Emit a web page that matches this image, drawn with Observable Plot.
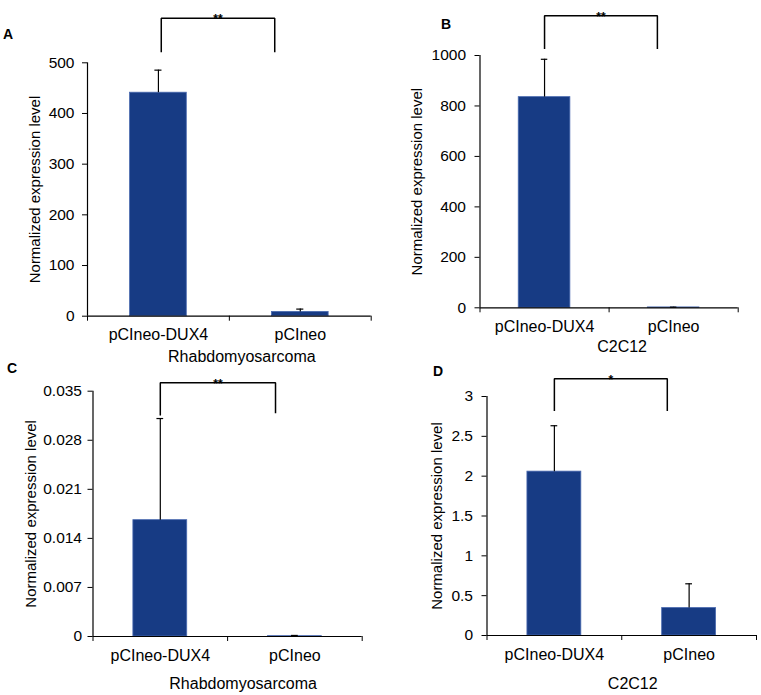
<!DOCTYPE html>
<html>
<head>
<meta charset="utf-8">
<script src="https://cdn.jsdelivr.net/npm/d3@7"></script>
<script src="https://cdn.jsdelivr.net/npm/@observablehq/plot@0.6"></script>
<style>
  html, body { margin: 0; padding: 0; background: white; }
  #root { position: relative; width: 761px; height: 695px; overflow: hidden; background: white;
          font-family: 'Liberation Sans', Arial, Helvetica, sans-serif; }
  .panel { position: absolute; }
  .letter { position: absolute; font-weight: bold; font-size: 14px; line-height: 1; color: black; }
</style>
</head>
<body>
<div id="root"></div>
<script>
// ---- data ----
const categories = ["pCIneo-DUX4", "pCIneo"];
const meanA = [441, 8.5];
const errA = [44.5, 5.5];
const meanB = [835, 1.5];
const errB = [150, 1];
const meanC = [0.0166, 0.00005];
const errC = [0.0145, 0.0001];
const meanD = [2.057, 0.345];
const errD = [0.576, 0.304];
const ticksA = [0, 100, 200, 300, 400, 500];
const ticksB = [0, 200, 400, 600, 800, 1000];
const ticksC = [0, 0.007, 0.014, 0.021, 0.028, 0.035];
const ticksD = [0, 0.5, 1, 1.5, 2, 2.5, 3];
const cellLines = ["Rhabdomyosarcoma", "C2C12", "Rhabdomyosarcoma", "C2C12"];
const panelLetters = ["A", "B", "C", "D"];
const significance = ["**", "**", "**", "*"];
// bracket heights (data units): top line, left leg end, right leg end
const bracketTop = [588, 1158, 0.0362, 3.224];
const bracketLegs = [[521, 521], [1026, 1026], [0.03153, 0.03186], [2.819, 2.819]];
const yLabel = "Normalized expression level";

const barColor = "#173b84";
const font = "'Liberation Sans', Arial, Helvetica, sans-serif";

const layouts = [
  {left: 0,   top: 0,   width: 380, height: 372, mL: 87,    mR: 9.3,  mT: 62.3, mB: 56.3, tickPad: 8, ylabDx: -52, labDx: 12.5, labDy: 41, bx: [0.02, 0.82],  letter: [3, 27]},
  {left: 380, top: 0,   width: 381, height: 372, mL: 99.5,  mR: 23.3, mT: 55,   mB: 64.7, tickPad: 9, ylabDx: -63, labDx: 13,   labDy: 39, bx: [0, 0.874],    letter: [61, 17]},
  {left: 0,   top: 340, width: 380, height: 355, mL: 92.5,  mR: 18.3, mT: 50.7, mB: 59,   tickPad: 6, ylabDx: -62, labDx: 15.5, labDy: 47, bx: [0, 0.856],    letter: [7, 361]},
  {left: 380, top: 340, width: 381, height: 355, mL: 106.5, mR: 5,    mT: 56,   mB: 60,   tickPad: 9, ylabDx: -50, labDx: 11,   labDy: 48, bx: [0, 0.838],    letter: [53, 364]}
];

const means = [meanA, meanB, meanC, meanD];
const errs = [errA, errB, errC, errD];
const ticks = [ticksA, ticksB, ticksC, ticksD];

const root = document.getElementById("root");

for (let p = 0; p < 4; p++) {
  const L = layouts[p];
  const yTicks = ticks[p];
  const ymax = yTicks[yTicks.length - 1];
  const data = categories.map((c, i) => ({i, c, v: means[p][i], e: errs[p][i]}));
  const [xl, xr] = L.bx;
  const top = bracketTop[p];
  const [legL, legR] = bracketLegs[p];
  const bracket = [
    {x: xl, y: legL}, {x: xl, y: top}, {x: xr, y: top}, {x: xr, y: legR}
  ];

  const svg = Plot.plot({
    width: L.width,
    height: L.height,
    marginLeft: L.mL,
    marginRight: L.mR,
    marginTop: L.mT,
    marginBottom: L.mB,
    style: {fontFamily: font, fontSize: "15.5px", color: "black", background: "transparent", overflow: "visible"},
    x: {domain: [-0.5, 1.5], ticks: [-0.5, 0.5, 1.5], tickFormat: () => "", tickSize: 5, label: null},
    y: {domain: [0, ymax], ticks: yTicks, tickSize: 5, tickPadding: L.tickPad, tickFormat: d => String(d), label: null},
    marks: [
      Plot.rectY(data, {x1: d => d.i - 0.2, x2: d => d.i + 0.2, y1: 0, y2: "v", fill: barColor, stroke: "#4a6ab0", strokeWidth: 0.8}),
      Plot.ruleX(data, {x: "i", y1: "v", y2: d => d.v + d.e, stroke: "black", strokeWidth: 1.2}),
      Plot.ruleY(data, {x1: d => d.i - 0.025, x2: d => d.i + 0.025, y: d => d.v + d.e, stroke: "black", strokeWidth: 1.2}),
      Plot.ruleX([-0.5], {y1: 0, y2: ymax, stroke: "black", strokeWidth: 1.2}),
      Plot.ruleY([0], {stroke: "black", strokeWidth: 1.2}),
      Plot.line(bracket, {x: "x", y: "y", stroke: "black", strokeWidth: 1.5, strokeLinejoin: "miter", strokeLinecap: "butt"}),
      Plot.text([significance[p]], {x: (xl + xr) / 2, y: top, text: d => d, fontSize: 12, fontWeight: "bold", lineAnchor: "bottom", dy: 5, fill: "black"}),
      Plot.text(data, {x: "i", text: "c", frameAnchor: "bottom", lineAnchor: "middle", dy: 19, fontSize: 16, fill: "black"}),
      Plot.text([cellLines[p]], {text: d => d, frameAnchor: "bottom", textAnchor: "middle", lineAnchor: "middle", dx: L.labDx, dy: L.labDy, fontSize: 16, fill: "black"}),
      Plot.text([yLabel], {text: d => d, frameAnchor: "left", textAnchor: "middle", rotate: -90, dx: L.ylabDx, lineAnchor: "middle", fontSize: 15, fill: "black"})
    ]
  });

  const wrap = document.createElement("div");
  wrap.className = "panel";
  wrap.style.left = L.left + "px";
  wrap.style.top = L.top + "px";
  wrap.appendChild(svg);
  root.appendChild(wrap);

  const letter = document.createElement("div");
  letter.className = "letter";
  letter.textContent = panelLetters[p];
  letter.style.left = (L.left + L.letter[0]) + "px";
  letter.style.top = L.letter[1] + "px";
  root.appendChild(letter);
}
</script>
</body>
</html>
